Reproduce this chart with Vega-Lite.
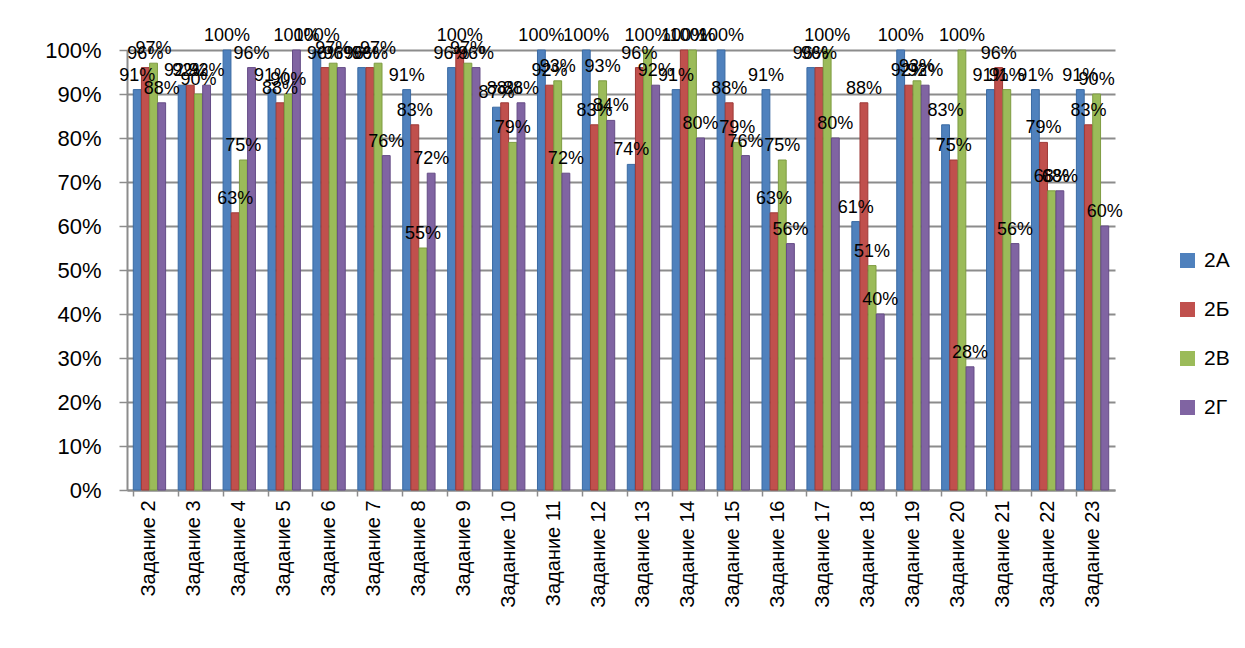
{
  "$schema": "https://vega.github.io/schema/vega-lite/v6.json",
  "autosize": {"type": "none"},
  "width": 988,
  "height": 440,
  "padding": {"left": 127, "top": 50, "right": 130, "bottom": 158},
  "background": "white",
  "config": {
    "view": {"stroke": null},
    "font": "Liberation Sans",
    "axis": {"labelFont": "Liberation Sans", "labelColor": "#000000"}
  },
  "data": {
    "values": [
      {"task": "Задание 2", "cls": "2А", "value": 0.91}, {"task": "Задание 2", "cls": "2Б", "value": 0.96}, {"task": "Задание 2", "cls": "2В", "value": 0.97}, {"task": "Задание 2", "cls": "2Г", "value": 0.88},
      {"task": "Задание 3", "cls": "2А", "value": 0.92}, {"task": "Задание 3", "cls": "2Б", "value": 0.92}, {"task": "Задание 3", "cls": "2В", "value": 0.90}, {"task": "Задание 3", "cls": "2Г", "value": 0.92},
      {"task": "Задание 4", "cls": "2А", "value": 1.00}, {"task": "Задание 4", "cls": "2Б", "value": 0.63}, {"task": "Задание 4", "cls": "2В", "value": 0.75}, {"task": "Задание 4", "cls": "2Г", "value": 0.96},
      {"task": "Задание 5", "cls": "2А", "value": 0.91}, {"task": "Задание 5", "cls": "2Б", "value": 0.88}, {"task": "Задание 5", "cls": "2В", "value": 0.90}, {"task": "Задание 5", "cls": "2Г", "value": 1.00},
      {"task": "Задание 6", "cls": "2А", "value": 1.00}, {"task": "Задание 6", "cls": "2Б", "value": 0.96}, {"task": "Задание 6", "cls": "2В", "value": 0.97}, {"task": "Задание 6", "cls": "2Г", "value": 0.96},
      {"task": "Задание 7", "cls": "2А", "value": 0.96}, {"task": "Задание 7", "cls": "2Б", "value": 0.96}, {"task": "Задание 7", "cls": "2В", "value": 0.97}, {"task": "Задание 7", "cls": "2Г", "value": 0.76},
      {"task": "Задание 8", "cls": "2А", "value": 0.91}, {"task": "Задание 8", "cls": "2Б", "value": 0.83}, {"task": "Задание 8", "cls": "2В", "value": 0.55}, {"task": "Задание 8", "cls": "2Г", "value": 0.72},
      {"task": "Задание 9", "cls": "2А", "value": 0.96}, {"task": "Задание 9", "cls": "2Б", "value": 1.00}, {"task": "Задание 9", "cls": "2В", "value": 0.97}, {"task": "Задание 9", "cls": "2Г", "value": 0.96},
      {"task": "Задание 10", "cls": "2А", "value": 0.87}, {"task": "Задание 10", "cls": "2Б", "value": 0.88}, {"task": "Задание 10", "cls": "2В", "value": 0.79}, {"task": "Задание 10", "cls": "2Г", "value": 0.88},
      {"task": "Задание 11", "cls": "2А", "value": 1.00}, {"task": "Задание 11", "cls": "2Б", "value": 0.92}, {"task": "Задание 11", "cls": "2В", "value": 0.93}, {"task": "Задание 11", "cls": "2Г", "value": 0.72},
      {"task": "Задание 12", "cls": "2А", "value": 1.00}, {"task": "Задание 12", "cls": "2Б", "value": 0.83}, {"task": "Задание 12", "cls": "2В", "value": 0.93}, {"task": "Задание 12", "cls": "2Г", "value": 0.84},
      {"task": "Задание 13", "cls": "2А", "value": 0.74}, {"task": "Задание 13", "cls": "2Б", "value": 0.96}, {"task": "Задание 13", "cls": "2В", "value": 1.00}, {"task": "Задание 13", "cls": "2Г", "value": 0.92},
      {"task": "Задание 14", "cls": "2А", "value": 0.91}, {"task": "Задание 14", "cls": "2Б", "value": 1.00}, {"task": "Задание 14", "cls": "2В", "value": 1.00}, {"task": "Задание 14", "cls": "2Г", "value": 0.80},
      {"task": "Задание 15", "cls": "2А", "value": 1.00}, {"task": "Задание 15", "cls": "2Б", "value": 0.88}, {"task": "Задание 15", "cls": "2В", "value": 0.79}, {"task": "Задание 15", "cls": "2Г", "value": 0.76},
      {"task": "Задание 16", "cls": "2А", "value": 0.91}, {"task": "Задание 16", "cls": "2Б", "value": 0.63}, {"task": "Задание 16", "cls": "2В", "value": 0.75}, {"task": "Задание 16", "cls": "2Г", "value": 0.56},
      {"task": "Задание 17", "cls": "2А", "value": 0.96}, {"task": "Задание 17", "cls": "2Б", "value": 0.96}, {"task": "Задание 17", "cls": "2В", "value": 1.00}, {"task": "Задание 17", "cls": "2Г", "value": 0.80},
      {"task": "Задание 18", "cls": "2А", "value": 0.61}, {"task": "Задание 18", "cls": "2Б", "value": 0.88}, {"task": "Задание 18", "cls": "2В", "value": 0.51}, {"task": "Задание 18", "cls": "2Г", "value": 0.40},
      {"task": "Задание 19", "cls": "2А", "value": 1.00}, {"task": "Задание 19", "cls": "2Б", "value": 0.92}, {"task": "Задание 19", "cls": "2В", "value": 0.93}, {"task": "Задание 19", "cls": "2Г", "value": 0.92},
      {"task": "Задание 20", "cls": "2А", "value": 0.83}, {"task": "Задание 20", "cls": "2Б", "value": 0.75}, {"task": "Задание 20", "cls": "2В", "value": 1.00}, {"task": "Задание 20", "cls": "2Г", "value": 0.28},
      {"task": "Задание 21", "cls": "2А", "value": 0.91}, {"task": "Задание 21", "cls": "2Б", "value": 0.96}, {"task": "Задание 21", "cls": "2В", "value": 0.91}, {"task": "Задание 21", "cls": "2Г", "value": 0.56},
      {"task": "Задание 22", "cls": "2А", "value": 0.91}, {"task": "Задание 22", "cls": "2Б", "value": 0.79}, {"task": "Задание 22", "cls": "2В", "value": 0.68}, {"task": "Задание 22", "cls": "2Г", "value": 0.68},
      {"task": "Задание 23", "cls": "2А", "value": 0.91}, {"task": "Задание 23", "cls": "2Б", "value": 0.83}, {"task": "Задание 23", "cls": "2В", "value": 0.90}, {"task": "Задание 23", "cls": "2Г", "value": 0.60}
    ]
  },
  "encoding": {
    "x": {
      "field": "task", "type": "nominal", "sort": null, "title": null,
      "scale": {"paddingInner": 0.28, "paddingOuter": 0.14},
      "axis": {
        "labelAngle": -90, "labelFontSize": 20, "labelPadding": 4,
        "bandPosition": 0, "tickSize": 6, "tickColor": "#8c8c8c", "tickWidth": 1.5,
        "domainColor": "#8c8c8c", "domainWidth": 2, "grid": false
      }
    },
    "xOffset": {"field": "cls", "type": "nominal", "scale": {"paddingInner": 0.04}},
    "y": {
      "field": "value", "type": "quantitative", "title": null,
      "scale": {"domain": [0, 1], "nice": false},
      "axis": {
        "format": ".0%", "values": [0, 0.1, 0.2, 0.3, 0.4, 0.5, 0.6, 0.7, 0.8, 0.9, 1],
        "labelFontSize": 22, "labelPadding": 18, "tickSize": 8, "tickColor": "#8c8c8c", "tickWidth": 1.5,
        "domainColor": "#8c8c8c", "domainWidth": 2,
        "grid": true, "gridColor": "#8c8c8c", "gridWidth": 2
      }
    }
  },
  "layer": [
    {
      "mark": {"type": "bar", "strokeWidth": 1},
      "encoding": {
        "color": {
          "field": "cls", "type": "nominal", "title": null,
          "scale": {"domain": ["2А", "2Б", "2В", "2Г"], "range": ["#4F81BD", "#C0504D", "#9BBB59", "#8064A2"]},
          "legend": {
            "orient": "none", "legendX": 1050, "legendY": 200,
            "symbolType": "square", "symbolSize": 225, "symbolStrokeWidth": 0,
            "labelFontSize": 21, "labelFont": "Liberation Sans", "labelColor": "#000000",
            "rowPadding": 27, "labelOffset": 6
          }
        },
        "stroke": {
          "field": "cls", "type": "nominal",
          "scale": {"domain": ["2А", "2Б", "2В", "2Г"], "range": ["#3A6AA3", "#9E3A37", "#7E9C42", "#654C86"]},
          "legend": null
        }
      }
    },
    {
      "mark": {"type": "text", "dy": -14, "fontSize": 18, "font": "Liberation Sans", "color": "#000000"},
      "encoding": {
        "text": {"field": "value", "type": "quantitative", "format": ".0%"}
      }
    }
  ]
}
